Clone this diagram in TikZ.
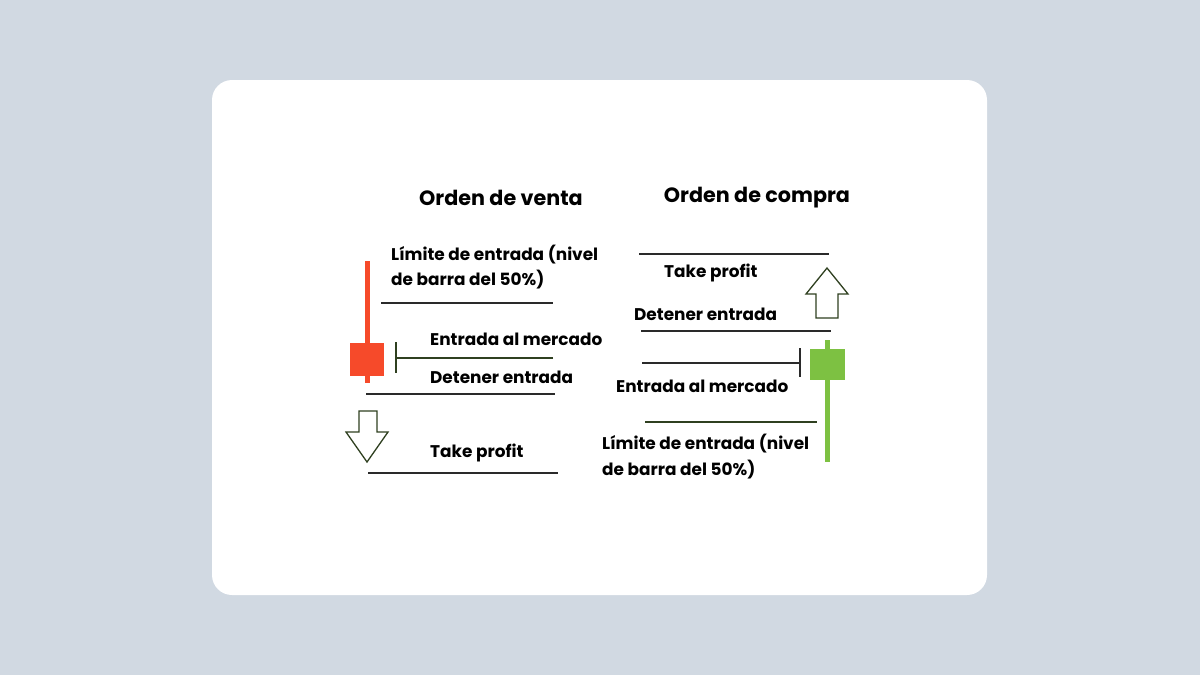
\documentclass[tikz,border=0pt]{standalone}
\usepackage{fontspec}
\setmainfont{Poppins}
\definecolor{bg}{HTML}{D1D9E2}
\definecolor{redc}{HTML}{F64A2A}
\definecolor{greenc}{HTML}{7DC142}
\definecolor{lnc}{HTML}{2A2A2A}
\definecolor{arc}{HTML}{2F4020}
\begin{document}
\begin{tikzpicture}[x=1pt,y=-1pt,
  lbl/.style={anchor=west,inner sep=0pt,font=\fontsize{16.9}{18}\selectfont\bfseries},
  ttl/.style={inner sep=0pt,font=\fontsize{20.7}{22}\selectfont\bfseries},
  lvl/.style={draw=lnc,line width=1.6pt},
  arw/.style={draw=arc,line width=1.3pt,fill=white}]
\fill[bg] (0,0) rectangle (1200,675);
\useasboundingbox (0,0) rectangle (1200,675);
\fill[white,rounded corners=20pt] (212,80) rectangle (987,595);
\node[ttl] (t1) at (501,198) {Orden de venta};
\node[ttl] (t2) at (757,198) {Orden de compra};
% left
\fill[redc] (364.5,261) rectangle (369.5,383);
\fill[redc] (350,343) rectangle (384,376);
\node[lbl] (l1) at (391,255) {Límite de entrada (nivel};
\node[lbl] (l2) at (391,280) {de barra del 50\%)};
\coordinate (a1) at (381,303); \coordinate (b1) at (553,303);
\draw[lvl] (a1) -- (b1);
\node[lbl] (l3) at (430,339) {Entrada al mercado};
\coordinate (a2) at (396,358); \coordinate (b2) at (553,358);
\draw[draw=arc,line width=1.3pt] (b2) -- (a2) (396,342) -- (396,373);
\node[lbl] (l4) at (430,377) {Detener entrada};
\coordinate (a3) at (366,394); \coordinate (b3) at (555,394);
\draw[lvl] (a3) -- (b3);
\draw[arw] (359,411) -- (377,411) -- (377,432) -- (388,432) -- (367,462) -- (346,432) -- (359,432) -- cycle;
\node[lbl] (l5) at (430,453) {Take profit};
\coordinate (a4) at (368,473); \coordinate (b4) at (558,473);
\draw[lvl] (a4) -- (b4);
% right
\coordinate (c1) at (639,254); \coordinate (d1) at (829,254);
\draw[lvl] (c1) -- (d1);
\node[lbl] (r1) at (664,273) {Take profit};
\draw[arw] (816,318) -- (838,318) -- (838,294) -- (848,294) -- (827,268) -- (806,294) -- (816,294) -- cycle;
\node[lbl] (r2) at (634,314) {Detener entrada};
\coordinate (c2) at (641,331); \coordinate (d2) at (831,331);
\draw[lvl] (c2) -- (d2);
\coordinate (c3) at (642,363); \coordinate (d3) at (800,363);
\draw[draw=lnc,line width=1.3pt] (c3) -- (d3) (800,348) -- (800,377);
\fill[greenc] (824.5,340) rectangle (829.5,462);
\fill[greenc] (810,349) rectangle (845,380);
\node[lbl] (r3) at (616,386) {Entrada al mercado};
\coordinate (c4) at (645,422); \coordinate (d4) at (817,422);
\draw[draw=arc,line width=1.6pt] (c4) -- (d4);
\node[lbl] (r4) at (602,444) {Límite de entrada (nivel};
\node[lbl] (r5) at (602,470) {de barra del 50\%)};
\end{tikzpicture}
\end{document}
